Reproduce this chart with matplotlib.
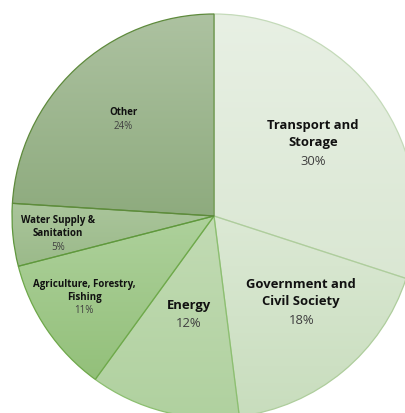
import numpy as np
import matplotlib
matplotlib.use("Agg")
import matplotlib.pyplot as plt
from matplotlib.colors import LinearSegmentedColormap

plt.rcParams["font.family"] = ["Open Sans", "DejaVu Sans"]

# Sector shares (%), clockwise from 12 o'clock
sectors = ["Transport and\nStorage", "Government and\nCivil Society", "Energy",
           "Agriculture, Forestry,\nFishing", "Water Supply &\nSanitation", "Other"]
shares = [30, 18, 12, 11, 5, 24]

# top / bottom gradient colours and outline colour for each slice
top_colors = ["#e8f0e4", "#dce9d5", "#c2dbb4", "#aed19c", "#aac59b", "#adc2a1"]
bottom_colors = ["#dae7d3", "#c8ddbd", "#b0d19f", "#93c07a", "#9bba8a", "#8eab7e"]
edge_colors = ["#c4dab9", "#aecd9c", "#8cbf70", "#6ea84a", "#5f973d", "#5e8a3c"]

# label placement: radius (fraction of R), angle nudge (deg), font size
label_r = [0.585, 0.638, 0.503, 0.777, 0.782, 0.655]
label_nudge = [-3, 3, 0, 0, 3.5, 0]
label_size = [9.4, 9.4, 9.4, 7.0, 7.0, 7.0]

W, H = 406, 413
fig = plt.figure(figsize=(W / 100, H / 100), dpi=100)
ax = fig.add_axes([0, 0, 1, 1])

wedges, _ = ax.pie(shares, startangle=90, counterclock=False, radius=1,
                   wedgeprops=dict(linewidth=0.9))

grad = np.linspace(0, 1, 256).reshape(-1, 1)
for w, c0, c1, ec in zip(wedges, top_colors, bottom_colors, edge_colors):
    w.set_facecolor("none")
    w.set_edgecolor(ec)
    w.set_zorder(3)
    ext = w.get_path().get_extents()
    cmap = LinearSegmentedColormap.from_list("g", [c0, c1])
    im = ax.imshow(grad, cmap=cmap, aspect="auto", origin="upper",
                   extent=[ext.x0, ext.x1, ext.y0, ext.y1], zorder=2,
                   interpolation="bilinear")
    im.set_clip_path(w)

# labels at each slice's mid angle
cum = np.cumsum([0] + shares)
for i, (name, val) in enumerate(zip(sectors, shares)):
    mid = 90 - 3.6 * (cum[i] + cum[i + 1]) / 2 + label_nudge[i]
    x = label_r[i] * np.cos(np.radians(mid))
    y = label_r[i] * np.sin(np.radians(mid))
    fs = label_size[i]
    big = fs > 8
    gap = fs * (0.22 if big else 0.12)
    ax.annotate(name, (x, y), xytext=(0, gap), textcoords="offset points",
                ha="center", va="bottom", fontsize=fs, fontweight="bold",
                color="#111111", linespacing=1.38 if big else 1.3, zorder=5)
    ax.annotate(f"{val}%", (x, y), xytext=(0, -gap), textcoords="offset points",
                ha="center", va="top", fontsize=fs, color="#404040", zorder=5)

# the pie runs off the right and bottom of the canvas
cx, cy, R = 214, 216, 202
ax.set_xlim(-cx / R, (W - cx) / R)
ax.set_ylim((cy - H) / R, cy / R)
ax.set_aspect("equal")
ax.axis("off")

fig.savefig("out.png", dpi=100)
